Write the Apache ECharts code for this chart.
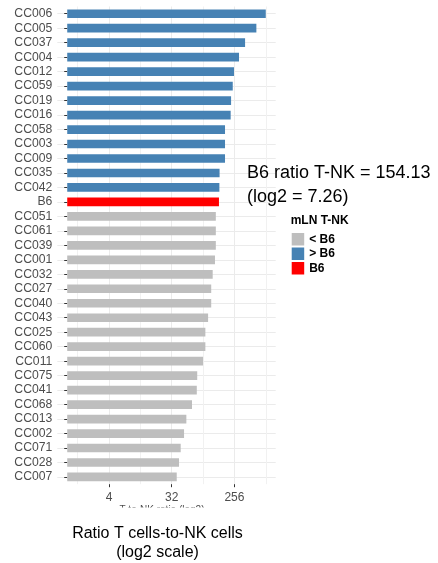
<!DOCTYPE html>
<html>
<head>
<meta charset="utf-8">
<script src="https://cdn.jsdelivr.net/npm/echarts@6/dist/echarts.min.js"></script>
<style>
  html, body { margin: 0; padding: 0; background: #fff; }
  #main { width: 438px; height: 563px; }
</style>
</head>
<body>
<div id="main"></div>
<script>
// strains, top to bottom
const strains = ['CC006', 'CC005', 'CC037', 'CC004', 'CC012', 'CC059', 'CC019', 'CC016',
  'CC058', 'CC003', 'CC009', 'CC035', 'CC042', 'B6', 'CC051', 'CC061', 'CC039', 'CC001',
  'CC032', 'CC027', 'CC040', 'CC043', 'CC025', 'CC060', 'CC011', 'CC075', 'CC041', 'CC068',
  'CC013', 'CC002', 'CC071', 'CC028', 'CC007'];

// log2 of ratio T cells / NK cells
const log2Ratio = [9.50, 9.05, 8.51, 8.22, 7.98, 7.92, 7.84, 7.82,
  7.55, 7.55, 7.55, 7.29, 7.28, 7.26, 7.11, 7.11, 7.11, 7.07,
  6.96, 6.89, 6.89, 6.74, 6.61, 6.61, 6.50, 6.22, 6.20, 5.97,
  5.70, 5.59, 5.43, 5.35, 5.24];

// group vs B6
const groups = ['> B6', '> B6', '> B6', '> B6', '> B6', '> B6', '> B6', '> B6',
  '> B6', '> B6', '> B6', '> B6', '> B6', 'B6', '< B6', '< B6', '< B6', '< B6',
  '< B6', '< B6', '< B6', '< B6', '< B6', '< B6', '< B6', '< B6', '< B6', '< B6',
  '< B6', '< B6', '< B6', '< B6', '< B6'];

const groupNames = ['< B6', '> B6', 'B6'];
const groupColors = { '< B6': '#bebebe', '> B6': '#4682b4', 'B6': '#ff0000' };

// x axis ticks (log2 positions and their labels)
const majorTicks = [2, 5, 8];
const majorLabels = ['4', '32', '256'];
const minorTicks = [0.5, 3.5, 6.5, 9.5];

const FONT = 'Liberation Sans';
const myChart = echarts.init(document.getElementById('main'), null, { renderer: 'canvas' });

// one series per group, overlapping on the same band
const series = groupNames.map(g => {
  return {
    name: g,
    type: 'bar',
    barWidth: '60%',
    barGap: '-100%',
    itemStyle: { color: groupColors[g] },
    data: log2Ratio.map((v, i) => groups[i] === g ? v : '-')
  };
});

const option = {
  animation: false,
  textStyle: { fontFamily: FONT },
  grid: { left: 57.3, right: 162.3, top: 6.5, bottom: 78.8, containLabel: false },
  legend: {
    data: groupNames,
    orient: 'vertical',
    left: 291.7,
    top: 233,
    padding: 0,
    itemWidth: 12.5,
    itemHeight: 12.5,
    itemGap: 2,
    icon: 'rect',
    selectedMode: false,
    textStyle: { fontFamily: FONT, fontWeight: 'bold', fontSize: 12, color: '#000' }
  },
  xAxis: [
    {
      type: 'value',
      min: -0.475,
      max: 9.975,
      position: 'bottom',
      axisLine: { show: false },
      axisTick: { show: true, customValues: majorTicks, length: 3, lineStyle: { color: '#333' } },
      axisLabel: {
        customValues: majorTicks,
        formatter: v => majorLabels[majorTicks.indexOf(v)],
        color: '#4d4d4d', fontSize: 12, margin: 7
      },
      splitLine: { show: true, lineStyle: { color: '#ebebeb', width: 1 } }
    },
    {
      type: 'value',
      min: -0.475,
      max: 9.975,
      position: 'top',
      axisLine: { show: false },
      axisTick: { show: false, customValues: minorTicks },
      axisLabel: { show: false },
      splitLine: { show: true, lineStyle: { color: '#f1f1f1', width: 1 } }
    }
  ],
  yAxis: {
    type: 'category',
    data: strains,
    inverse: true,
    axisLine: { show: false },
    axisTick: { show: true, interval: 0, alignWithLabel: true, length: 3, lineStyle: { color: '#333' } },
    axisLabel: { interval: 0, color: '#4d4d4d', fontSize: 12.2, margin: 5 },
    splitLine: { show: true, interval: 0, alignWithLabel: true, lineStyle: { color: '#ebebeb', width: 1 } }
  },
  series: series,
  graphic: [
    {
      type: 'text',
      z: 100,
      x: 247, y: 185,
      style: {
        text: 'B6 ratio T-NK = 154.13\n(log2 = 7.26)',
        font: '18px "Liberation Sans"',
        fill: '#000',
        lineHeight: 24,
        verticalAlign: 'middle'
      }
    },
    {
      type: 'text',
      z: 100,
      x: 290.7, y: 220.7,
      style: {
        text: 'mLN T-NK',
        font: 'bold 12px "Liberation Sans"',
        fill: '#000',
        verticalAlign: 'middle'
      }
    },
    // axis title that is cut off in the original
    {
      type: 'text',
      z: 100,
      x: 162, y: 505.5,
      style: {
        text: 'T-to-NK ratio (log2)',
        font: '10px "Liberation Sans"',
        fill: '#4d4d4d',
        align: 'center',
        verticalAlign: 'top'
      }
    },
    {
      type: 'rect',
      z: 101,
      shape: { x: 100, y: 507.5, width: 130, height: 14 },
      style: { fill: '#fff' }
    },
    {
      type: 'text',
      z: 100,
      x: 157.5, y: 543.5,
      style: {
        text: 'Ratio T cells-to-NK cells\n(log2 scale)',
        font: '16px "Liberation Sans"',
        fill: '#000',
        lineHeight: 19,
        align: 'center',
        verticalAlign: 'middle'
      }
    }
  ]
};

myChart.setOption(option);
</script>
</body>
</html>
